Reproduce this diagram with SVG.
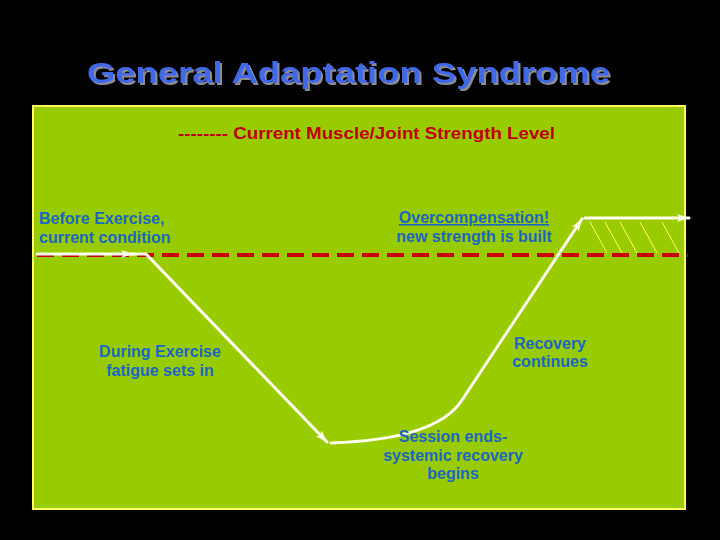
<svg xmlns="http://www.w3.org/2000/svg" width="720" height="540" viewBox="0 0 720 540">
  <style>
    .lbl { font-family: "Liberation Sans", Arial, sans-serif; font-weight: bold; font-size: 16px; fill: #1B66C2; }
    .curve { fill: none; stroke: #FFFFF0; stroke-width: 3; stroke-linecap: round; stroke-linejoin: round; }
    .hatch { stroke: #FFFF66; stroke-width: 1; }
  </style>
  <defs>
    <marker id="arrow" markerUnits="userSpaceOnUse" markerWidth="14" markerHeight="10" refX="12" refY="5" orient="auto">
      <path d="M0,1 L12,5 L0,9 L3,5 Z" fill="#FFFFF0"/>
    </marker>
    <filter id="shadow" x="-5%" y="-20%" width="110%" height="150%">
      <feOffset in="SourceAlpha" dx="2" dy="2" result="off"/>
      <feFlood flood-color="#8C8C8C"/>
      <feComposite in2="off" operator="in" result="sh"/>
      <feMerge>
        <feMergeNode in="sh"/>
        <feMergeNode in="SourceGraphic"/>
      </feMerge>
    </filter>
  </defs>
  <rect x="0" y="0" width="720" height="540" fill="#000000"/>
  <g id="title">
    <text x="87" y="83" font-family="Liberation Sans, Arial, sans-serif" font-weight="bold" font-size="30" fill="#4169E8" textLength="523" lengthAdjust="spacingAndGlyphs" filter="url(#shadow)">General Adaptation Syndrome</text>
  </g>
  <g id="panel">
    <rect x="33" y="106" width="652" height="403" fill="#99CC00" stroke="#FFFF66" stroke-width="2"/>
  </g>
  <g id="legend">
    <text x="178" y="139" font-family="Liberation Sans, Arial, sans-serif" font-weight="bold" font-size="17" fill="#C00000" textLength="377" lengthAdjust="spacingAndGlyphs">-------- Current Muscle/Joint Strength Level</text>
  </g>
  <g id="strength-level">
    <line x1="37" y1="255" x2="688" y2="255" stroke="#C80000" stroke-width="4" stroke-dasharray="17 8"/>
  </g>
  <g id="hatching">
    <line class="hatch" x1="590" y1="222" x2="607" y2="253"/>
    <line class="hatch" x1="605" y1="222" x2="622" y2="253"/>
    <line class="hatch" x1="620" y1="222" x2="637" y2="253"/>
    <line class="hatch" x1="640" y1="222" x2="657" y2="253"/>
    <line class="hatch" x1="662" y1="222" x2="679" y2="253"/>
  </g>
  <g id="connectors">
    <path class="curve" d="M37,254 H133" marker-end="url(#arrow)"/>
    <path class="curve" d="M131,254 H146 L327,442" marker-end="url(#arrow)"/>
    <path class="curve" d="M331,443 C390,441 443,430 462,400 L582,219" marker-end="url(#arrow)"/>
    <path class="curve" d="M585,218 H689" marker-end="url(#arrow)"/>
  </g>
  <g id="before">
    <text class="lbl" x="39" y="224">Before Exercise,</text>
    <text class="lbl" x="39" y="243">current condition</text>
  </g>
  <g id="overcompensation">
    <text class="lbl" x="474" y="223" text-anchor="middle" text-decoration="underline">Overcompensation!</text>
    <text class="lbl" x="474" y="242" text-anchor="middle">new strength is built</text>
  </g>
  <g id="during">
    <text class="lbl" x="160" y="357" text-anchor="middle">During Exercise</text>
    <text class="lbl" x="160" y="376" text-anchor="middle">fatigue sets in</text>
  </g>
  <g id="recovery">
    <text class="lbl" x="550" y="349" text-anchor="middle">Recovery</text>
    <text class="lbl" x="550" y="367" text-anchor="middle">continues</text>
  </g>
  <g id="session">
    <text class="lbl" x="453" y="442" text-anchor="middle">Session ends-</text>
    <text class="lbl" x="453" y="461" text-anchor="middle">systemic recovery</text>
    <text class="lbl" x="453" y="479" text-anchor="middle">begins</text>
  </g>
</svg>
